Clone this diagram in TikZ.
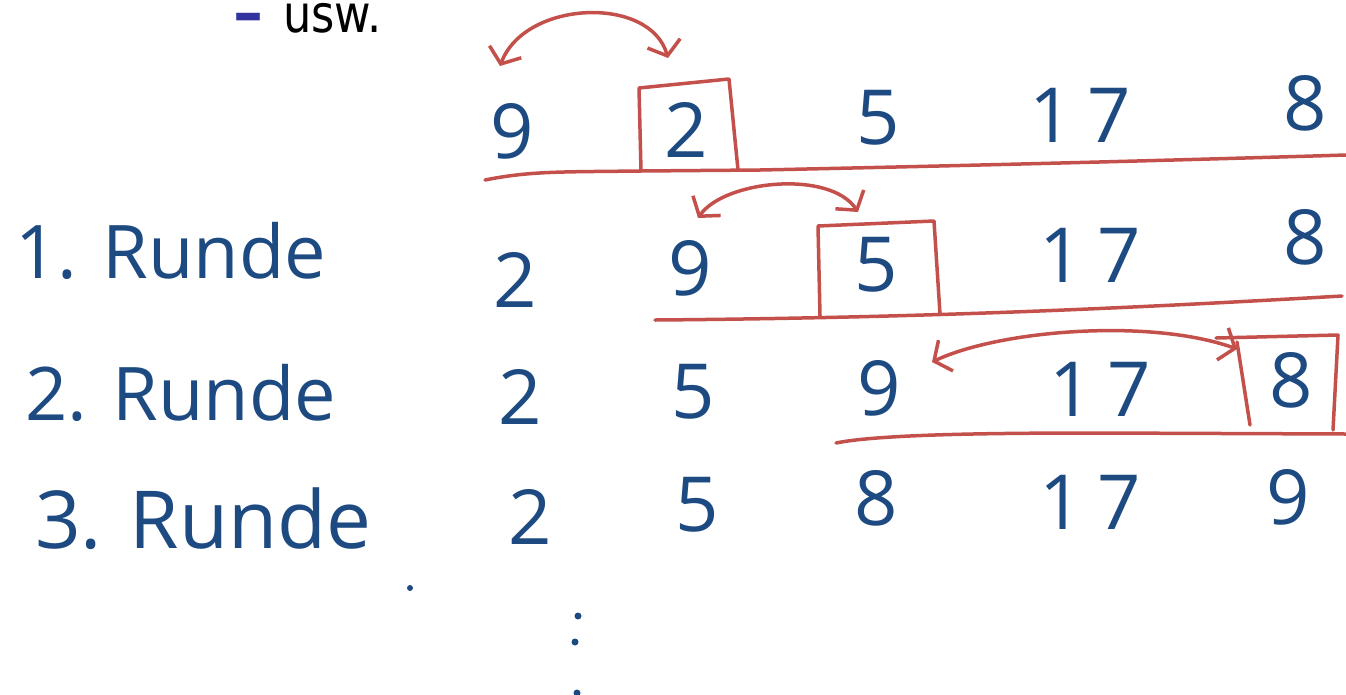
\documentclass[tikz,border=0pt]{standalone}
\usepackage{fontspec}
\setmainfont{Open Sans}
\newfontfamily\uswfont{DejaVu Sans}
\usetikzlibrary{arrows.meta}
\definecolor{ink}{RGB}{30,74,130}
\definecolor{pen}{RGB}{196,80,76}
\definecolor{bulletblue}{RGB}{51,51,160}
\tikzset{
  digit/.style={text=ink, inner sep=0pt, font=\fontsize{76}{76}\selectfont},
  roundlabel/.style={text=ink, inner sep=0pt, anchor=base west, font=\fontsize{74}{74}\selectfont},
  redline/.style={draw=pen, line width=3.5pt, line cap=round, line join=round},
  swaparrow/.style={redline, {Straight Barb[length=13pt,width=34pt]}-{Straight Barb[length=13pt,width=34pt]}},
  inkdot/.style={fill=ink},
}
\begin{document}
\begin{tikzpicture}[x=1pt,y=-1pt]
\useasboundingbox (0,0) rectangle (1346,694);

% header
\node[text=bulletblue, inner sep=0pt, anchor=base west, font=\uswfont\bfseries\fontsize{60}{60}\selectfont] (dash) at (233,33) {–};
\node[text=black, inner sep=0pt, anchor=base west, font=\uswfont\fontsize{52}{52}\selectfont] (usw) at (283,32) {\scalebox{0.86}[1]{usw.}};

% row labels
\node[roundlabel] (l1) at (15,278) {1. Runde};
\node[roundlabel] (l2) at (25,420) {2. Runde};
\node[roundlabel, font=\fontsize{80}{80}\selectfont] (l3) at (35,548) {3. Runde};

% row 0
\node[digit] (a1) at (512,131) {9};
\node[digit] (a2) at (686,130) {2};
\node[digit] (a3) at (878,118) {5};
\node[digit] (a4) at (1080,115) {1\kern14pt 7};
\node[digit] (a5) at (1305,103) {8};
% row 1
\node[digit] (b1) at (515,280) {2};
\node[digit] (b2) at (690,268) {9};
\node[digit] (b3) at (876,265) {5};
\node[digit] (b4) at (1090,255) {1\kern14pt 7};
\node[digit] (b5) at (1305,237) {8};
% row 2
\node[digit] (c1) at (520,397) {2};
\node[digit] (c2) at (693,392) {5};
\node[digit] (c3) at (879,388) {9};
\node[digit] (c4) at (1100,389) {1\kern14pt 7};
\node[digit] (c5) at (1291,380) {8};
% row 3
\node[digit] (d1) at (530,517) {2};
\node[digit] (d2) at (697,505) {5};
\node[digit] (d3) at (876,498) {8};
\node[digit] (d4) at (1090,502) {1\kern14pt 7};
\node[digit] (d5) at (1288,497) {9};

% underlines
\draw[redline] (485,180) .. controls (530,171) and (560,172) .. (640,171)
  -- (760,170) .. controls (950,166) and (1150,161) .. (1346,155);
\draw[redline] (655,320) .. controls (900,318) and (1100,310) .. (1342,296);
\draw[redline] (836,443) .. controls (880,434) and (1000,433) .. (1100,433) -- (1346,434);

% boxes
\draw[redline] (641,171) -- (639,88) -- (729,79) -- (738,170);
\draw[redline] (820,316) -- (818,226) -- (934,221) -- (940,314);
\draw[redline] (1250,425) -- (1237,342);
\draw[redline] (1216,338) -- (1338,335) -- (1333,430);

% swap arrows
\coordinate (s0l) at (500,66);
\coordinate (s0r) at (668,58);
\coordinate (s1l) at (698,218);
\coordinate (s1r) at (858,212);
\coordinate (s2l) at (932,362);
\coordinate (s2r) at (1237,349);
\draw[swaparrow] (s0l) .. controls (525,0) and (650,-5) .. (s0r);
\draw[swaparrow] (s1l) .. controls (725,180) and (830,170) .. (s1r);
\draw[swaparrow] (s2l) .. controls (1000,330) and (1150,318) .. (s2r);

% dots
\fill[inkdot] (410,588) circle (3);
\fill[inkdot] (578,616) circle (3.5);
\fill[inkdot] (575,642) circle (3.5);
\fill[inkdot] (577,693) circle (3.5);
\end{tikzpicture}
\end{document}
